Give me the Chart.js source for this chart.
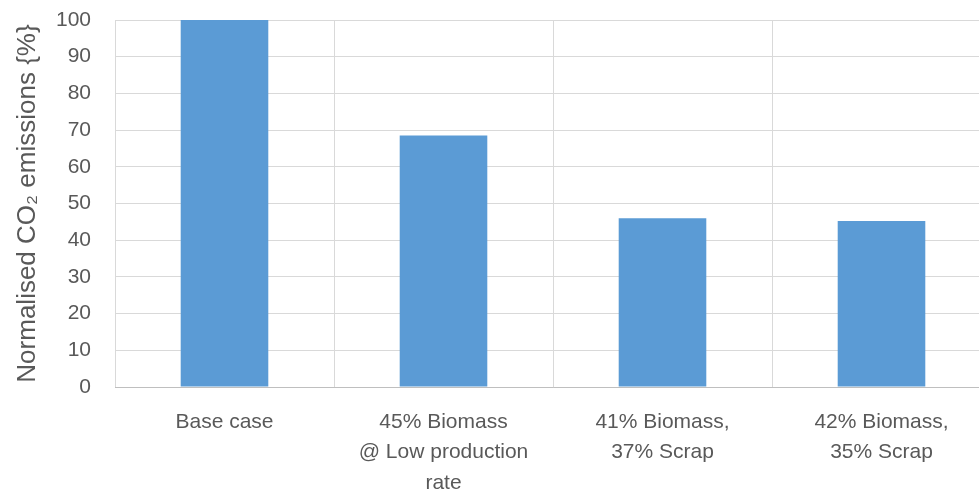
<!DOCTYPE html>
<html lang="en">

<head>
  <meta charset="UTF-8">
  <title>Normalised CO2 emissions</title>
  <script src="https://cdn.jsdelivr.net/npm/chart.js"></script>
  <style>
    html, body { margin: 0; padding: 0; background: #fff; overflow: hidden; }
    #wrap { width: 995px; height: 497px; }
  </style>
</head>

<body>
  <div id="wrap">
    <canvas id="graphique" width="995" height="497"></canvas>
  </div>

  <script>
    const categories = [
      'Base case',
      ['45% Biomass', '@ Low production', 'rate'],
      ['41% Biomass,', '37% Scrap'],
      ['42% Biomass,', '35% Scrap']
    ];
    const emissions = [100, 68.5, 46.0, 45.2];
    const yTicks = [0, 10, 20, 30, 40, 50, 60, 70, 80, 90, 100];

    const grey = '#595959';
    const font = '"Liberation Sans", Arial, sans-serif';

    const ctx = document.getElementById('graphique').getContext('2d');

    new Chart(ctx, {
      type: 'bar',
      data: {
        labels: categories,
        datasets: [{
          data: emissions,
          backgroundColor: '#5B9BD5',
          borderWidth: 0,
          categoryPercentage: 1,
          barPercentage: 0.4
        }]
      },
      options: {
        responsive: false,
        animation: false,
        layout: { padding: { top: 20, right: 4, left: 12, bottom: 0 } },
        plugins: {
          legend: { display: false },
          tooltip: { enabled: false }
        },
        scales: {
          x: {
            grid: { color: '#d9d9d9', offset: true, drawTicks: false },
            border: { color: '#bfbfbf' },
            ticks: {
              color: grey,
              font: { family: font, size: 21, lineHeight: 1.45 },
              padding: 20,
              maxRotation: 0,
              autoSkip: false
            },
            afterFit: s => { s.height = 110; }
          },
          y: {
            min: 0,
            max: 100,
            afterBuildTicks: s => { s.ticks = yTicks.map(v => ({ value: v })); },
            grid: { color: '#d9d9d9', drawTicks: false },
            border: { display: false },
            ticks: {
              color: grey,
              font: { family: font, size: 21 },
              padding: 24
            },
            title: {
              display: true,
              text: 'Normalised CO₂ emissions {%}',
              color: grey,
              font: { family: font, size: 26 },
              padding: 0
            },
            afterFit: s => {
              s.width = 103;
              s.paddingTop = 0;
              s.paddingBottom = 0;
            }
          }
        }
      }
    });
  </script>
</body>

</html>
